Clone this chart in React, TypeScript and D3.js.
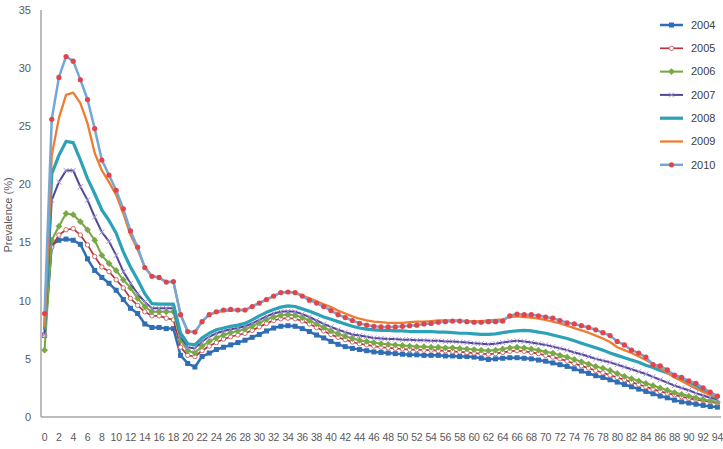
import React from 'react';
import * as d3 from 'd3';

const ages = d3.range(0, 95);
const xTickLabels = d3.range(0, 95, 2);
const yTicks = [0, 5, 10, 15, 20, 25, 30, 35];
const years = ['2004', '2005', '2006', '2007', '2008', '2009', '2010'];

const v2004 = [
  7.0, 14.8, 15.2, 15.3, 15.2, 14.85, 13.6, 12.6, 12.0, 11.5,
  10.9, 10.1, 9.35, 8.9, 8.0, 7.7, 7.7, 7.6, 7.6, 5.3,
  4.6, 4.3, 5.2, 5.5, 5.8, 6.0, 6.2, 6.4, 6.6, 6.85,
  7.1, 7.4, 7.65, 7.8, 7.85, 7.8, 7.6, 7.35, 7.05, 6.8,
  6.5, 6.25, 6.05, 5.9, 5.8, 5.7, 5.6, 5.55, 5.5, 5.45,
  5.4, 5.35, 5.35, 5.3, 5.3, 5.3, 5.25, 5.25, 5.2, 5.2,
  5.15, 5.05, 4.95, 5.0, 5.05, 5.1, 5.1, 5.05, 5.0, 4.9,
  4.8, 4.65, 4.5, 4.35, 4.15, 3.95, 3.75, 3.55, 3.4, 3.2,
  3.0, 2.8, 2.6, 2.4, 2.2, 2.0, 1.8, 1.65, 1.45, 1.3,
  1.2, 1.1, 1.0, 0.9, 0.85,
];
const v2005 = [
  7.0, 14.6, 15.65, 16.1, 16.2, 15.65, 14.8, 13.8, 12.9, 12.5,
  11.8, 11.1, 10.2, 9.6, 9.05, 8.7, 8.7, 8.5, 8.35, 6.0,
  5.3, 5.2, 5.7, 6.1, 6.4, 6.7, 6.9, 7.05, 7.2, 7.45,
  7.75, 8.05, 8.3, 8.45, 8.5, 8.45, 8.25, 8.0, 7.7, 7.4,
  7.1, 6.85, 6.65, 6.45, 6.3, 6.2, 6.1, 6.0, 5.95, 5.9,
  5.85, 5.8, 5.8, 5.75, 5.75, 5.7, 5.7, 5.65, 5.6, 5.55,
  5.5, 5.45, 5.4, 5.45, 5.55, 5.65, 5.7, 5.65, 5.55, 5.45,
  5.3, 5.15, 5.0, 4.8, 4.6, 4.4, 4.2, 4.0, 3.8, 3.6,
  3.4, 3.2, 3.0, 2.8, 2.6, 2.4, 2.2, 2.05, 1.9, 1.75,
  1.6, 1.5, 1.4, 1.3, 1.2,
];
const v2006 = [
  5.75, 15.2, 16.4, 17.5, 17.4, 16.8, 16.1, 15.2, 13.9, 13.2,
  12.6, 11.8, 11.1, 10.2, 9.5, 9.05, 9.05, 9.05, 9.05, 6.6,
  5.7, 5.5, 6.1, 6.5, 6.8, 7.05, 7.25, 7.4, 7.55, 7.8,
  8.1, 8.4, 8.6, 8.75, 8.8, 8.75, 8.55, 8.3, 8.0, 7.7,
  7.4, 7.15, 6.95, 6.75, 6.6, 6.5, 6.4, 6.3, 6.25, 6.2,
  6.15, 6.1, 6.05, 6.05, 6.0, 6.0, 5.95, 5.95, 5.9, 5.85,
  5.8, 5.75, 5.7, 5.75, 5.85, 5.95, 6.0, 5.95, 5.85, 5.75,
  5.6, 5.5, 5.3, 5.15, 4.95, 4.75, 4.55, 4.35, 4.2, 4.0,
  3.75, 3.5, 3.3, 3.1, 2.9, 2.7, 2.5, 2.3, 2.1, 1.95,
  1.8, 1.65, 1.5, 1.4, 1.3,
];
const v2007 = [
  7.1, 18.65, 20.2, 21.2, 21.2, 19.8, 18.65, 17.2, 15.9, 15.1,
  13.9, 12.5, 11.5, 10.6, 9.9, 9.35, 9.35, 9.35, 9.35, 6.9,
  6.0, 5.9, 6.5, 6.9, 7.2, 7.4, 7.55, 7.65, 7.8, 8.05,
  8.35, 8.65, 8.9, 9.05, 9.1, 9.05, 8.85, 8.6, 8.3, 8.0,
  7.75, 7.5, 7.3, 7.1, 7.0, 6.9, 6.8, 6.75, 6.7, 6.7,
  6.65, 6.65, 6.6, 6.6, 6.55, 6.55, 6.5, 6.5, 6.45, 6.4,
  6.35, 6.3, 6.25, 6.3, 6.4, 6.5, 6.55, 6.5, 6.4, 6.3,
  6.2, 6.05, 5.9, 5.75, 5.55, 5.4, 5.2, 5.0, 4.85, 4.7,
  4.5, 4.3, 4.1, 3.9, 3.7, 3.45, 3.2, 2.95, 2.7, 2.5,
  2.3, 2.05, 1.85, 1.65, 1.5,
];
const v2008 = [
  7.5, 20.9, 22.5, 23.7, 23.6, 22.1, 20.5, 19.2, 17.8, 16.9,
  15.8, 14.2, 12.9, 11.8, 10.6, 9.75, 9.7, 9.7, 9.7, 7.2,
  6.3, 6.2, 6.8, 7.2, 7.5, 7.65, 7.8, 7.9, 8.05, 8.35,
  8.7, 9.0, 9.25, 9.45, 9.55, 9.5, 9.3, 9.1, 8.85, 8.6,
  8.4, 8.2, 8.0, 7.8, 7.65, 7.55, 7.5, 7.45, 7.45, 7.4,
  7.4, 7.35, 7.35, 7.35, 7.35, 7.3, 7.3, 7.25, 7.2, 7.2,
  7.15, 7.1, 7.1, 7.15, 7.25, 7.35, 7.4, 7.45, 7.4, 7.3,
  7.2, 7.05, 6.9, 6.75, 6.55, 6.35, 6.15, 5.95, 5.75, 5.5,
  5.3, 5.1, 4.9, 4.7, 4.45, 4.25, 4.0, 3.8, 3.55, 3.3,
  3.0, 2.7, 2.35, 1.95, 1.6,
];
const v2009 = [
  7.75, 22.5, 25.7, 27.7, 27.9, 27.0, 25.25, 22.7, 21.2, 20.2,
  19.1, 17.5, 15.65, 14.4, 12.9, 12.1, 12.0, 11.6, 11.6, 8.8,
  7.35, 7.3, 8.2, 8.8, 9.0, 9.1, 9.15, 9.2, 9.2, 9.5,
  9.8, 10.1, 10.4, 10.7, 10.75, 10.7, 10.45, 10.2, 9.95, 9.7,
  9.45, 9.15, 8.9, 8.65, 8.45, 8.3, 8.2, 8.15, 8.1, 8.1,
  8.1, 8.15, 8.2, 8.2, 8.25, 8.3, 8.3, 8.3, 8.3, 8.25,
  8.25, 8.25, 8.3, 8.35, 8.4, 8.6, 8.65, 8.6, 8.55, 8.45,
  8.35, 8.2, 8.05, 7.85, 7.65, 7.45, 7.25, 7.0, 6.75, 6.45,
  6.0, 5.75, 5.5, 5.2, 4.9, 4.55, 4.2, 3.8, 3.4, 3.1,
  2.75, 2.45, 2.15, 1.9, 1.75,
];
const v2010 = [
  8.9, 25.6, 29.2, 31.0, 30.6, 29.0, 27.3, 24.8, 22.1, 20.8,
  19.5, 17.9, 16.0, 14.6, 12.85, 12.1, 12.0, 11.6, 11.65, 8.8,
  7.35, 7.3, 8.2, 8.8, 9.05, 9.2, 9.25, 9.2, 9.2, 9.5,
  9.8, 10.1, 10.4, 10.7, 10.75, 10.7, 10.4, 10.05, 9.8, 9.5,
  9.15, 8.8, 8.55, 8.3, 8.05, 7.9, 7.8, 7.75, 7.75, 7.75,
  7.8, 7.85, 7.9, 8.0, 8.05, 8.15, 8.2, 8.25, 8.25, 8.2,
  8.15, 8.15, 8.2, 8.2, 8.25, 8.7, 8.85, 8.8, 8.8, 8.7,
  8.6, 8.5, 8.3, 8.1, 8.0, 7.85, 7.7, 7.5, 7.25, 7.0,
  6.5, 6.2, 5.75, 5.5, 5.15, 4.5, 4.4, 4.05, 3.6, 3.4,
  3.1, 2.9, 2.5, 2.15, 1.8,
];

const values = [v2004, v2005, v2006, v2007, v2008, v2009, v2010];

const styles = [
  { line: '#2f6db5', width: 2.5, marker: 'square', mfill: '#2f6db5', mstroke: 'none' },
  { line: '#b2373b', width: 1.7, marker: 'circle', mfill: '#ffffff', mstroke: '#d0676a' },
  { line: '#79a946', width: 2.1, marker: 'diamond', mfill: '#79a946', mstroke: 'none' },
  { line: '#55469a', width: 2, marker: 'cross', mfill: 'none', mstroke: '#a396d6' },
  { line: '#2ba2b5', width: 3.2, marker: 'none', mfill: 'none', mstroke: 'none' },
  { line: '#ee7c31', width: 2.3, marker: 'none', mfill: 'none', mstroke: 'none' },
  { line: '#74a7d8', width: 2.5, marker: 'dot', mfill: '#e2444a', mstroke: 'none' },
];

const font = '"Liberation Sans", Arial, sans-serif';

function Marker({ kind, x, y, fill, stroke }: any) {
  if (kind === 'square') return <rect x={x - 2.5} y={y - 2.5} width={5} height={5} fill={fill} />;
  if (kind === 'circle') return <circle cx={x} cy={y} r={2.2} fill={fill} stroke={stroke} strokeWidth={1} />;
  if (kind === 'diamond') return <path d={`M${x},${y - 3.4}L${x + 3.4},${y}L${x},${y + 3.4}L${x - 3.4},${y}Z`} fill={fill} />;
  if (kind === 'cross')
    return <path d={`M${x - 2.5},${y - 2.5}L${x + 2.5},${y + 2.5}M${x - 2.5},${y + 2.5}L${x + 2.5},${y - 2.5}`} stroke={stroke} strokeWidth={1} />;
  if (kind === 'dot') return <circle cx={x} cy={y} r={2.6} fill={fill} />;
  return null;
}

export default function App() {
  const width = 723;
  const height = 449;
  const x = d3.scalePoint<number>().domain(ages).range([41, 721]).padding(0.5);
  const y = d3.scaleLinear().domain([0, 35]).range([417, 10]);
  const line = d3
    .line<number>()
    .x((d, i) => x(ages[i]) as number)
    .y((d) => y(d));

  const legendY = (i: number) => 25 + i * 23.3;

  return (
    <svg width={width} height={height} style={{ position: 'absolute', left: 0, top: 0, background: '#fff' }} fontFamily={font}>
      <rect width={width} height={height} fill="#fff" />
      <line x1={41} x2={41} y1={10} y2={417} stroke="#a6a6a6" strokeWidth={1.5} />
      <line x1={41} x2={721} y1={417} y2={417} stroke="#a6a6a6" strokeWidth={1.5} />
      {yTicks.map((t) => (
        <text key={t} x={31} y={y(t)} dy="0.35em" textAnchor="end" fontSize={11} fill="#595959">
          {t}
        </text>
      ))}
      {xTickLabels.map((t) => (
        <text key={t} x={x(t)} y={441} textAnchor="middle" fontSize={10.5} fill="#595959" letterSpacing={-0.3}>
          {t}
        </text>
      ))}
      <text transform="translate(12,215) rotate(-90)" textAnchor="middle" fontSize={11} fill="#595959">
        Prevalence (%)
      </text>
      {values.map((vals, si) => {
        const s = styles[si];
        return (
          <g key={years[si]}>
            <path d={line(vals) || ''} fill="none" stroke={s.line} strokeWidth={s.width} strokeLinejoin="round" />
            {vals.map((v, i) => (
              <Marker key={i} kind={s.marker} x={x(ages[i])} y={y(v)} fill={s.mfill} stroke={s.mstroke} />
            ))}
          </g>
        );
      })}
      {years.map((yr, i) => {
        const s = styles[i];
        const ly = legendY(i);
        return (
          <g key={yr}>
            <line x1={660} x2={683} y1={ly} y2={ly} stroke={s.line} strokeWidth={s.width} />
            <Marker kind={s.marker} x={671.5} y={ly} fill={s.mfill} stroke={s.mstroke} />
            <text x={691} y={ly} dy="0.35em" fontSize={11} fill="#404040">
              {yr}
            </text>
          </g>
        );
      })}
    </svg>
  );
}
